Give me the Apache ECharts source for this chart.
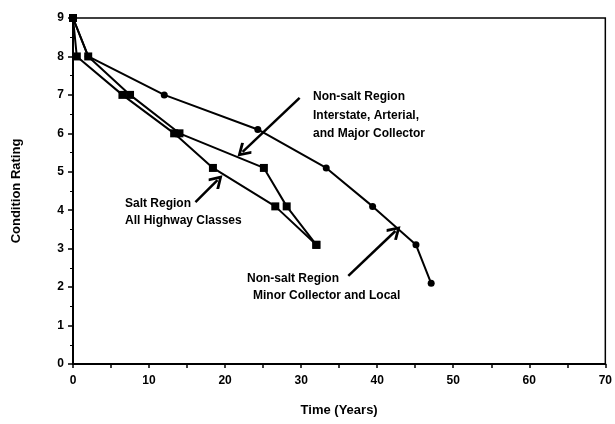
<!DOCTYPE html>
<html>
<head>
<meta charset="utf-8">
<script src="https://cdn.jsdelivr.net/npm/echarts@6/dist/echarts.min.js"></script>
<style>
  html, body { margin: 0; padding: 0; background: #fff; }
  #chart { width: 615px; height: 424px; }
</style>
</head>
<body>
<div id="chart"></div>
<script>
// non-salt region, minor collector and local (circles)
var minorLocal = [[0, 9], [2, 8], [12, 7], [24.3, 6.1], [33.3, 5.1], [39.4, 4.1], [45.1, 3.1], [47.1, 2.1]];
// non-salt region, interstate / arterial / major collector (squares)
var interstate = [[0, 9], [2, 8], [7.5, 7], [14, 6], [25.1, 5.1], [28.1, 4.1], [32, 3.1]];
// salt region, all highway classes (squares)
var saltRegion = [[0, 9], [0.5, 8], [6.5, 7], [13.3, 6], [18.4, 5.1], [26.6, 4.1], [32, 3.1]];

var xTicks = [0, 10, 20, 30, 40, 50, 60, 70];
var yTicks = [0, 1, 2, 3, 4, 5, 6, 7, 8, 9];

var arrows = [
  [[29.8, 6.92], [22.3, 5.52]],
  [[16.1, 4.21], [19.0, 4.78]],
  [[36.2, 2.29], [42.4, 3.46]]
];

var myChart = echarts.init(document.getElementById('chart'));
var fnt = 'Arial, "Liberation Sans", sans-serif';
var lbl = { fontFamily: fnt, fontWeight: 'bold', fontSize: 12, fill: '#000' };

var arrowData = [];
for (var i = 0; i < arrows.length; i++) {
  arrowData.push([{ coord: arrows[i][0] }, { coord: arrows[i][1] }]);
}

function lineSeries(name, data, symbol, size) {
  return {
    name: name,
    type: 'line',
    data: data,
    symbol: symbol,
    symbolSize: size,
    showAllSymbol: true,
    lineStyle: { color: '#000', width: 2 },
    itemStyle: { color: '#000' },
    animation: false
  };
}

var minorSeries = lineSeries('Non-salt Minor', minorLocal, 'circle', 7);
minorSeries.markLine = {
  silent: true,
  symbol: ['none', 'path://M0,0 L6,8 L4.3,9.3 L0,3.4 L-4.3,9.3 L-6,8 Z'],
  symbolSize: [15, 14],
  label: { show: false },
  lineStyle: { color: '#000', width: 2.5, type: 'solid' },
  itemStyle: { color: '#000' },
  data: arrowData,
  animation: false
};

option = {
  backgroundColor: '#fff',
  grid: { left: 73, right: 2, top: 18, bottom: 60, show: true, borderColor: '#000', borderWidth: 1.5 },
  xAxis: {
    type: 'value',
    min: 0, max: 70, interval: 5,
    name: 'Time (Years)',
    nameLocation: 'middle',
    nameGap: 40,
    nameTextStyle: { fontFamily: fnt, fontWeight: 'bold', fontSize: 13, color: '#000' },
    axisLine: { lineStyle: { color: '#000', width: 2 } },
    axisTick: { lineStyle: { color: '#000', width: 1.5 }, length: 4 },
    splitLine: { show: false },
    axisLabel: {
      color: '#000', fontFamily: fnt, fontWeight: 'bold', fontSize: 12, margin: 11,
      formatter: function (v) { return xTicks.indexOf(v) >= 0 ? v : ''; }
    }
  },
  yAxis: {
    type: 'value',
    min: 0, max: 9, interval: 1,
    name: 'Condition Rating',
    nameLocation: 'middle',
    nameGap: 50,
    nameTextStyle: { fontFamily: fnt, fontWeight: 'bold', fontSize: 13, color: '#000' },
    axisLine: { show: true, lineStyle: { color: '#000', width: 2 } },
    axisTick: { show: true, lineStyle: { color: '#000', width: 1.5 }, length: 5 },
    minorTick: { show: true, splitNumber: 2, length: 3, lineStyle: { color: '#000' } },
    splitLine: { show: false },
    axisLabel: {
      color: '#000', fontFamily: fnt, fontWeight: 'bold', fontSize: 12, margin: 9,
      formatter: function (v) { return yTicks.indexOf(v) >= 0 ? v : ''; }
    }
  },
  graphic: [
    { type: 'text', left: 313, top: 91, style: Object.assign({ text: 'Non-salt Region' }, lbl) },
    { type: 'text', left: 313, top: 110, style: Object.assign({ text: 'Interstate, Arterial,' }, lbl) },
    { type: 'text', left: 313, top: 128, style: Object.assign({ text: 'and Major Collector' }, lbl) },
    { type: 'text', left: 125, top: 198, style: Object.assign({ text: 'Salt Region' }, lbl) },
    { type: 'text', left: 125, top: 215, style: Object.assign({ text: 'All Highway Classes' }, lbl) },
    { type: 'text', left: 247, top: 273, style: Object.assign({ text: 'Non-salt Region' }, lbl) },
    { type: 'text', left: 253, top: 290, style: Object.assign({ text: 'Minor Collector and Local' }, lbl) }
  ],
  series: [
    minorSeries,
    lineSeries('Non-salt Interstate', interstate, 'rect', 8),
    lineSeries('Salt Region', saltRegion, 'rect', 8)
  ]
};
myChart.setOption(option);
</script>
</body>
</html>
